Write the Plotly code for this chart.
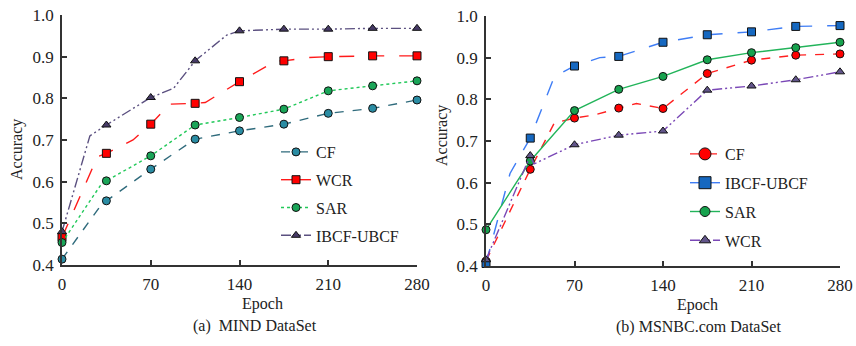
import plotly.graph_objects as go

# ---------------- data ----------------
epochs = [0, 35, 70, 105, 140, 175, 210, 245, 280]
x_ticks = [0, 70, 140, 210, 280]
y_ticks = [0.4, 0.5, 0.6, 0.7, 0.8, 0.9, 1.0]

# (a) MIND DataSet
mind_cf = [0.414, 0.554, 0.630, 0.702, 0.722, 0.738, 0.764, 0.776, 0.796]
mind_wcr = [0.466, 0.668, 0.738, 0.788, 0.840, 0.890, 0.900, 0.902, 0.902]
mind_sar = [0.454, 0.602, 0.662, 0.736, 0.754, 0.774, 0.818, 0.830, 0.842]
mind_ibcf = [0.480, 0.736, 0.802, 0.890, 0.962, 0.966, 0.966, 0.968, 0.968]
# extra line knots between markers
mind_cf_kx, mind_cf_ky = [32], [0.549]
mind_wcr_kx, mind_wcr_ky = [28, 56, 85, 113, 169, 195], [0.660, 0.700, 0.786, 0.790, 0.890, 0.898]
mind_sar_kx, mind_sar_ky = [31], [0.594]
mind_ibcf_kx, mind_ibcf_ky = [22, 88, 130], [0.710, 0.824, 0.952]

# (b) MSNBC.com DataSet
msn_cf = [0.412, 0.632, 0.755, 0.779, 0.778, 0.862, 0.894, 0.906, 0.909]
msn_ibcf = [0.406, 0.707, 0.880, 0.903, 0.937, 0.955, 0.962, 0.975, 0.977]
msn_sar = [0.487, 0.652, 0.773, 0.824, 0.855, 0.895, 0.912, 0.924, 0.937]
msn_wcr = [0.415, 0.665, 0.691, 0.714, 0.724, 0.822, 0.832, 0.847, 0.866]
msn_cf_kx, msn_cf_ky = [54, 85, 119], [0.743, 0.762, 0.790]
msn_ibcf_kx, msn_ibcf_ky = [19, 54, 90], [0.622, 0.854, 0.900]
msn_sar_kx, msn_sar_ky = [], []
msn_wcr_kx, msn_wcr_ky = [38], [0.645]

FONT = "Liberation Serif"
AX = "#333333"


def merged(xs, ys, kx, ky):
    pts = sorted(list(zip(xs, ys)) + list(zip(kx, ky)))
    return [p[0] for p in pts], [p[1] for p in pts]


fig = go.Figure()


def add_series(name, ys, kx, ky, xaxis, yaxis, legend, lcolor, dash, mcolor,
               symbol, msize, ldash=None, lmsize=None):
    lx, ly = merged(epochs, ys, kx, ky)
    fig.add_trace(go.Scatter(x=lx, y=ly, mode="lines", xaxis=xaxis, yaxis=yaxis,
                             line=dict(color=lcolor, width=1.4, dash=dash),
                             showlegend=False, hoverinfo="skip", cliponaxis=False))
    fig.add_trace(go.Scatter(x=epochs, y=ys, mode="markers", xaxis=xaxis, yaxis=yaxis,
                             marker=dict(color=mcolor, symbol=symbol, size=msize,
                                         line=dict(color="#111111", width=1)),
                             showlegend=False, cliponaxis=False))
    fig.add_trace(go.Scatter(x=[None], y=[None], mode="lines+markers", name=name,
                             xaxis=xaxis, yaxis=yaxis, legend=legend, legendgroup=legend + name,
                             line=dict(color=lcolor, width=1.4, dash=ldash or dash),
                             marker=dict(color=mcolor, symbol=symbol, size=lmsize or msize,
                                         line=dict(color="#111111", width=1))))


DDD = "10px,3px,2px,3px,2px,3px"

# left
add_series("CF", mind_cf, mind_cf_kx, mind_cf_ky, "x", "y", "legend",
           "#2f6b7c", "dash", "#2a8ca3", "circle", 8)
add_series("WCR", mind_wcr, mind_wcr_kx, mind_wcr_ky, "x", "y", "legend",
           "#ff1a1a", "longdash", "#ff0000", "square", 8, ldash="solid")
add_series("SAR", mind_sar, mind_sar_kx, mind_sar_ky, "x", "y", "legend",
           "#22c95a", "dot", "#1aa558", "circle", 8)
add_series("IBCF-UBCF", mind_ibcf, mind_ibcf_kx, mind_ibcf_ky, "x", "y", "legend",
           "#5b5080", DDD, "#463a66", "triangle-up", 8)

# right
add_series("CF", msn_cf, msn_cf_kx, msn_cf_ky, "x2", "y2", "legend2",
           "#ff2020", "dash", "#ff0000", "circle", 8, lmsize=12)
add_series("IBCF-UBCF", msn_ibcf, msn_ibcf_kx, msn_ibcf_ky, "x2", "y2", "legend2",
           "#3f7df5", "longdash", "#1668c0", "square", 8, ldash="solid", lmsize=12)
add_series("SAR", msn_sar, msn_sar_kx, msn_sar_ky, "x2", "y2", "legend2",
           "#22b45a", "solid", "#17a24e", "circle", 8, lmsize=10)
add_series("WCR", msn_wcr, msn_wcr_kx, msn_wcr_ky, "x2", "y2", "legend2",
           "#7a48b6", DDD, "#62558a", "triangle-up", 8, lmsize=10)

W, H = 856, 346


def xd(a, b):
    return [a / W, b / W]


def yd(top, bottom):
    return [1 - bottom / H, 1 - top / H]


def ann(text, x, y, angle=0):
    return dict(text=text, x=x / W, y=1 - y / H, xref="paper", yref="paper",
                xanchor="center", yanchor="middle", showarrow=False, textangle=angle,
                font=dict(family=FONT, size=16, color="#222222"))


axis_common = dict(showline=True, linecolor=AX, linewidth=1.5, ticks="inside",
                   ticklen=5, tickcolor=AX, tickwidth=1.5, showgrid=False,
                   zeroline=False, automargin=False, ticklabelstandoff=3,
                   tickfont=dict(family=FONT, size=17, color="#222222"))

fig.update_layout(
    template="none",
    width=W, height=H, margin=dict(l=0, r=0, t=0, b=0, pad=0, autoexpand=False),
    paper_bgcolor="white", plot_bgcolor="white",
    font=dict(family=FONT, color="#222222"),
    xaxis=dict(domain=xd(62, 417), range=[0, 280], tickvals=x_ticks, anchor="y", **axis_common),
    yaxis=dict(domain=yd(15, 265), range=[0.4, 1.0], tickvals=y_ticks, tickformat=".1f",
               anchor="x", **axis_common),
    xaxis2=dict(domain=xd(486, 840), range=[0, 280], tickvals=x_ticks, anchor="y2", **axis_common),
    yaxis2=dict(domain=yd(16, 266), range=[0.4, 1.0], tickvals=y_ticks, tickformat=".1f",
                anchor="x2", **axis_common),
    legend=dict(x=276 / W, y=1 - 135 / H, xanchor="left", yanchor="top",
                bgcolor="rgba(0,0,0,0)", font=dict(family=FONT, size=16, color="#222222"),
                tracegroupgap=4, itemwidth=30),
    legend2=dict(x=685 / W, y=1 - 137 / H, xanchor="left", yanchor="top",
                 bgcolor="rgba(0,0,0,0)", font=dict(family=FONT, size=16, color="#222222"),
                 tracegroupgap=5, itemwidth=30),
    annotations=[
        ann("Epoch", 262, 304),
        ann("(a)  MIND DataSet", 255, 326),
        ann("Accuracy", 17, 150, -90),
        ann("Epoch", 697, 305),
        ann("(b) MSNBC.com DataSet", 698, 327),
        ann("Accuracy", 442, 136, -90),
    ],
)

fig.write_html("out.html", config={"displayModeBar": False},
               post_script="document.body.style.margin='0';")
